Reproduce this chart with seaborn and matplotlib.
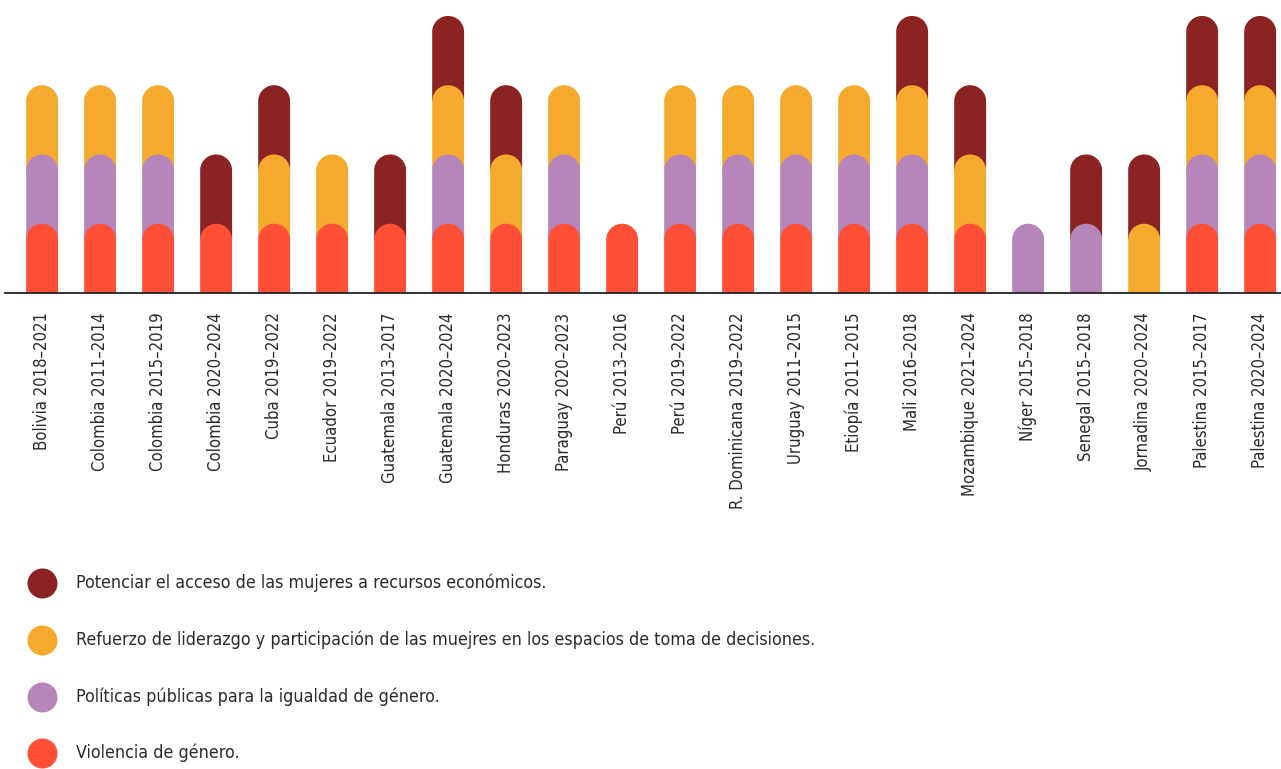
import numpy as np
import pandas as pd
import matplotlib
matplotlib.use("Agg")
import matplotlib.pyplot as plt
import seaborn as sns
from matplotlib.path import Path
from matplotlib.patches import PathPatch
from matplotlib import font_manager

# datos
paises = ["Bolivia 2018–2021", "Colombia 2011–2014", "Colombia 2015–2019", "Colombia 2020–2024",
          "Cuba 2019–2022", "Ecuador 2019–2022", "Guatemala 2013–2017", "Guatemala 2020–2024",
          "Honduras 2020–2023", "Paraguay 2020–2023", "Perú 2013–2016", "Perú 2019–2022",
          "R. Dominicana 2019–2022", "Uruguay 2011–2015", "Etiopía 2011–2015", "Mali 2016–2018",
          "Mozambique 2021–2024", "Níger 2015–2018", "Senegal 2015–2018", "Jornadina 2020–2024",
          "Palestina 2015–2017", "Palestina 2020–2024"]
violencia = [1, 1, 1, 1, 1, 1, 1, 1, 1, 1, 1, 1, 1, 1, 1, 1, 1, 0, 0, 0, 1, 1]
politicas = [1, 1, 1, 0, 0, 0, 0, 1, 0, 1, 0, 1, 1, 1, 1, 1, 0, 1, 1, 0, 1, 1]
refuerzo = [1, 1, 1, 0, 1, 1, 0, 1, 1, 1, 0, 1, 1, 1, 1, 1, 1, 0, 0, 1, 1, 1]
potenciar = [0, 0, 0, 1, 1, 0, 1, 1, 1, 0, 0, 0, 0, 0, 0, 1, 1, 0, 1, 1, 1, 1]

temas = ["Violencia de género.",
         "Políticas públicas para la igualdad de género.",
         "Refuerzo de liderazgo y participación de las muejres en los espacios de toma de decisiones.",
         "Potenciar el acceso de las mujeres a recursos económicos."]
colores = ["#FF4F37", "#B685BA", "#F5AA2E", "#8B2323"]

valores = np.array([violencia, politicas, refuerzo, potenciar])
acumulado = np.cumsum(valores, axis=0) * valores  # tope de cada segmento (0 si no existe)

# fuente estrecha (DejaVu Sans Condensed) si esta instalada
fp = font_manager.FontProperties(family="DejaVu Sans")
for f in font_manager.fontManager.ttflist:
    if f.fname.endswith("DejaVuSansCondensed.ttf"):
        fp = font_manager.FontProperties(fname=f.fname)
        break

W, H = 1281, 769
fig = plt.figure(figsize=(W / 100, H / 100), dpi=100)
sns.set_style("white")

ax_l, ax_r, ax_b, ax_t = 5, 1281, 293, 0
ax = fig.add_axes([ax_l / W, 1 - ax_b / H, (ax_r - ax_l) / W, (ax_b - ax_t) / H])

ancho = 0.55
xmin, xmax = -0.64, 21.36
ymax = 4.23
px_x = (ax_r - ax_l) / (xmax - xmin)
px_y = (ax_b - ax_t) / ymax
rx = ancho / 2
ry = rx * px_x / px_y


def capsula(x0, x1, y0, y1):
    # rectangulo con tope semicircular
    cx = (x0 + x1) / 2
    t = np.linspace(np.pi, 0, 40)
    arco = np.column_stack([cx + rx * np.cos(t), y1 - ry + ry * np.sin(t)])
    pts = np.vstack([[x0, y0], [x0, y1 - ry], arco, [x1, y0], [x0, y0]])
    return Path(pts)


# de arriba hacia abajo para que las tapas inferiores queden encima
for i in [3, 2, 1, 0]:
    df = pd.DataFrame({"pais": paises, "tope": acumulado[i]})
    n_prev = len(ax.patches)
    sns.barplot(data=df, x="pais", y="tope", color=colores[i], width=ancho,
                saturation=1, ax=ax, zorder=10 + (4 - i))
    for p in list(ax.patches[n_prev:]):
        h = p.get_height()
        if h > 0:
            x0 = p.get_x()
            x1 = x0 + p.get_width()
            y0 = 0 if h <= 1 else h - 1 - ry
            ax.add_patch(PathPatch(capsula(x0, x1, y0, h), facecolor=colores[i],
                                   edgecolor="none", zorder=10 + (4 - i)))
        p.remove()

ax.set_xlim(xmin, xmax)
ax.set_ylim(0, ymax)
ax.set_xlabel("")
ax.set_ylabel("")
ax.set_yticks([])
for s in ["top", "right", "left"]:
    ax.spines[s].set_visible(False)
ax.spines["bottom"].set_color("#222222")
ax.spines["bottom"].set_linewidth(1.3)
ax.spines["bottom"].set_zorder(20)
ax.set_xticks(range(len(paises)))
ax.set_xticklabels(paises, rotation=90, color="#2a2a2a", va="top",
                   fontproperties=fp, fontsize=12)
ax.tick_params(axis="x", length=0, pad=14)

# leyenda
lg = fig.add_axes([0, 0, 1, 1])
lg.set_xlim(0, W)
lg.set_ylim(H, 0)
lg.axis("off")
filas = [583, 640, 697, 753]
for y, tema, c in zip(filas, temas[::-1], colores[::-1]):
    lg.scatter([42], [y], s=(30 * 0.72) ** 2, color=c, linewidths=0)
    lg.text(76, y, tema, fontproperties=fp, fontsize=12.8, color="#2a2a2a",
            va="center", ha="left")

fig.savefig("out.png", dpi=100)
